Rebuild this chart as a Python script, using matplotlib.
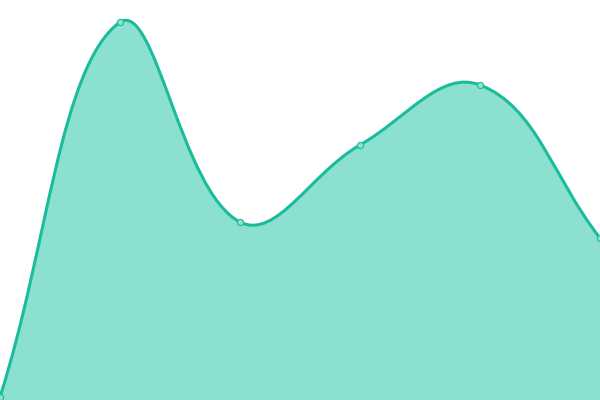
import numpy as np
import matplotlib
matplotlib.use("Agg")
import matplotlib.pyplot as plt
from matplotlib.path import Path
from matplotlib.patches import PathPatch

categories = ["A", "B", "C", "D", "E", "F"]
values = [3, 378, 178, 255, 315, 162]

line_color = "#1abc9c"
fill_color = "#8be0d0"
tension = 0.4

fig = plt.figure(figsize=(6, 4), dpi=100)
ax = fig.add_axes([0, 0, 1, 1])
ax.set_xlim(0, len(categories) - 1)
ax.set_ylim(0, 400)
ax.axis("off")

xs = np.arange(len(categories), dtype=float)
pts_data = np.column_stack([xs, np.array(values, dtype=float)])
pts = ax.transData.transform(pts_data)

n = len(pts)
cp_prev = np.zeros_like(pts)
cp_next = np.zeros_like(pts)
for i in range(n):
    first = pts[i - 1] if i > 0 else pts[i]
    mid = pts[i]
    after = pts[i + 1] if i < n - 1 else pts[i]
    d01 = np.hypot(*(mid - first))
    d12 = np.hypot(*(after - mid))
    tot = d01 + d12
    s01 = d01 / tot if tot else 0
    s12 = d12 / tot if tot else 0
    fa = tension * s01
    fb = tension * s12
    cp_prev[i] = mid - fa * (after - first)
    cp_next[i] = mid + fb * (after - first)

# clamp to area
bbox = ax.bbox
for arr in (cp_prev, cp_next):
    arr[:, 0] = np.clip(arr[:, 0], bbox.x0, bbox.x1)
    arr[:, 1] = np.clip(arr[:, 1], bbox.y0, bbox.y1)

inv = ax.transData.inverted()
P = inv.transform(pts)
CP = inv.transform(cp_prev)
CN = inv.transform(cp_next)

verts = [P[0]]
codes = [Path.MOVETO]
for i in range(n - 1):
    verts += [CN[i], CP[i + 1], P[i + 1]]
    codes += [Path.CURVE4] * 3

line_path = Path(verts, codes)
fill_verts = verts + [(xs[-1], 0), (xs[0], 0), P[0]]
fill_codes = codes + [Path.LINETO, Path.LINETO, Path.CLOSEPOLY]
ax.add_patch(PathPatch(Path(fill_verts, fill_codes), facecolor=fill_color,
                       edgecolor="none", zorder=1))
ax.add_patch(PathPatch(line_path, facecolor="none", edgecolor=line_color,
                       lw=2.2, zorder=2, capstyle="round", joinstyle="round"))
ax.scatter(xs, values, s=20, facecolor=fill_color, edgecolor=line_color,
           linewidth=0.8, zorder=3, clip_on=False)

fig.savefig("out.png", dpi=100)
